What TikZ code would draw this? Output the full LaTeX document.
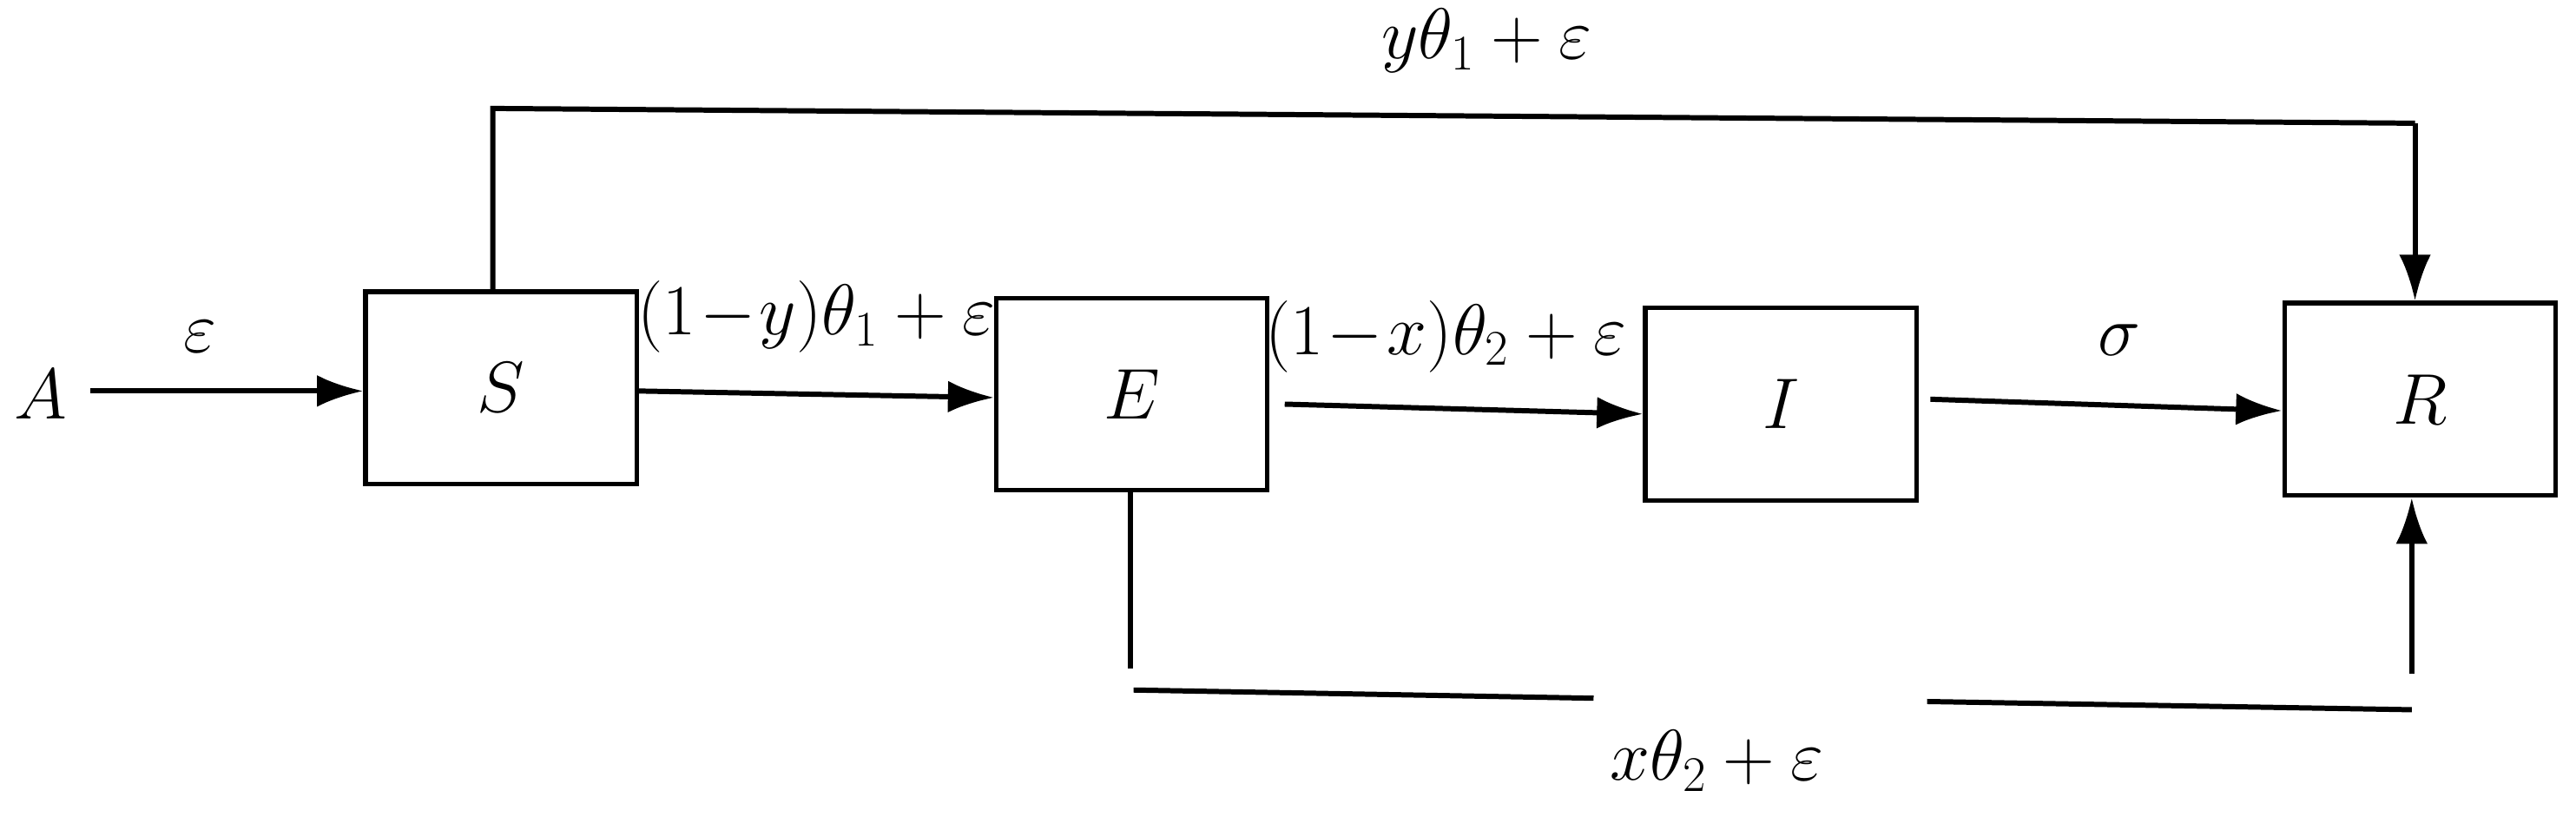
\documentclass[tikz,border=0pt]{standalone}
\usepackage{fontspec}
\setmainfont{Liberation Serif}
\usetikzlibrary{arrows.meta}
\begin{document}
\begin{tikzpicture}[x=0.02cm,y=-0.02cm,
  box/.style={draw,line width=1.6pt,minimum width=3.3cm,minimum height=2.34cm,inner sep=0pt,font=\fontsize{34}{40}\selectfont},
  ln/.style={line width=1.8pt},
  arr/.style={ln,-{Latex[length=16pt,width=11pt]}},
  lab/.style={font=\fontsize{24}{28}\selectfont}]
\useasboundingbox (0,0) rectangle (1568,497);
\node[box] (S) at (305,236) {$S$};
\node[box] (E) at (689,240) {$E$};
\node[box] (I) at (1084,246) {$I$};
\node[box] (R) at (1473,243) {$R$};
\node[font=\fontsize{34}{40}\selectfont] (A) at (25,240) {$A$};
\coordinate (a0) at (55,238);
\draw[arr] (a0) -- (S.west |- a0);
\node[lab] (eps) at (122,205) {$\varepsilon$};
\draw[arr] (S.east |- 0,238) -- (E.west |- 0,242);
\node[lab] (l1) at (497,193) {$(1\!-\!y)\theta_1+\varepsilon$};
\draw[arr] (782,246) -- (I.west |- 0,252);
\node[lab] (l2) at (880,205) {$(1\!-\!x)\theta_2+\varepsilon$};
\draw[arr] (1175,243) -- (R.west |- 0,250);
\node[font=\fontsize{40}{44}\selectfont] (sg) at (1290,207) {$\sigma$};
\coordinate (t1) at (300,66);
\coordinate (t2) at (1470,75);
\draw[ln] (S.north -| t1) -- (t1) -- (t2);
\draw[arr] (t2) -- (R.north -| t2);
\node[lab] (l3) at (905,25) {$y\theta_1+\varepsilon$};
\coordinate (b0) at (688,407);
\draw[ln] (E.south -| b0) -- (b0);
\coordinate (b1) at (690,420); \coordinate (b2) at (970,425);
\coordinate (b3) at (1173,427); \coordinate (b4) at (1468,432);
\draw[ln] (b1) -- (b2);
\draw[ln] (b3) -- (b4);
\coordinate (b5) at (1468,410);
\draw[arr] (b5) -- (R.south -| b5);
\node[lab] (l4) at (1045,463) {$x\theta_2+\varepsilon$};
\end{tikzpicture}
\end{document}
